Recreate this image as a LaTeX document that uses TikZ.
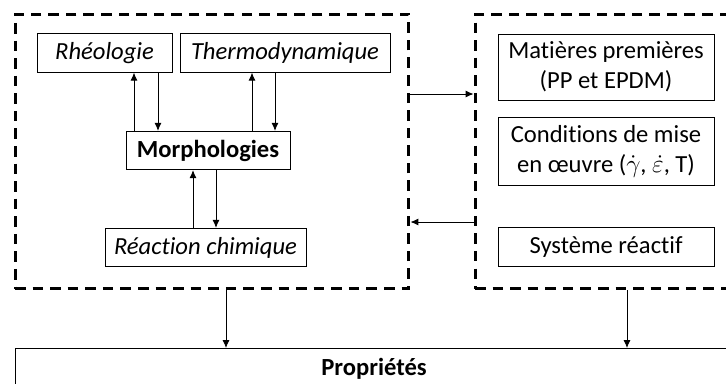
\documentclass[tikz,border=0pt]{standalone}
\usepackage{fontspec}
\setmainfont{Carlito}[Ligatures=CommonOff]
\usetikzlibrary{arrows.meta}

\tikzset{
  zone/.style={draw, dashed, line width=1.7pt, dash pattern=on 6pt off 4pt, inner sep=0pt},
  boite/.style={draw, line width=0.5pt, inner sep=0pt, align=center, minimum height=0.77cm},
  fleche/.style={-{Latex[length=4.5pt,width=4pt]}, line width=0.5pt}
}

\begin{document}
\begin{tikzpicture}[x=0.02cm,y=-0.02cm,font=\fontsize{14}{17}\selectfont]
    \useasboundingbox (0,0) rectangle (726,383);
    \clip (0,0) rectangle (726,383);

    % les deux zones
    \node[zone, minimum width=7.88cm, minimum height=5.5cm] (gauche) at (212,151.5) {};
    \node[zone, minimum width=5.6cm, minimum height=5.5cm] (droite) at (615,151.5) {};

    % zone de gauche
    \node[boite, minimum width=2.7cm] (rheo) at (104.5,53) {\textit{Rhéologie}};
    \node[boite, minimum width=4.2cm] (thermo) at (285,53) {\textit{Thermodynamique}};
    \node[boite, minimum width=3.28cm] (morpho) at (208,150.5) {\textbf{Morphologies}};
    \node[boite, minimum width=4.02cm] (reac) at (205.5,247.5) {\textit{Réaction chimique}};

    % zone de droite
    \node[boite, minimum width=4.32cm, minimum height=1.32cm] (mat) at (606,67)
      {Matières premières\\(PP et EPDM)};
    \node[boite, minimum width=4.32cm, minimum height=1.36cm] (cond) at (606,151)
      {Conditions de mise\\en œuvre ($\dot{\gamma}$, $\dot{\varepsilon}$, T)};
    \node[boite, minimum width=4.32cm] (sys) at (606,247) {Système réactif};

    \node[draw, line width=0.5pt, inner sep=0pt, anchor=north, minimum width=14.36cm,
      text height=0.54cm, text depth=0.5cm] (prop) at (374,348) {\textbf{Propriétés}};

    % fleches
    \foreach \x in {134,252}
      \draw[fleche] (morpho.north -| \x,0) -- (rheo.south -| \x,0);
    \foreach \x in {158,275}
      \draw[fleche] (rheo.south -| \x,0) -- (morpho.north -| \x,0);
    \draw[fleche] (reac.north -| 193,0) -- (morpho.south -| 193,0);
    \draw[fleche] (morpho.south -| 216,0) -- (reac.north -| 216,0);

    \draw[fleche] (gauche.east |- 0,94) -- (droite.west |- 0,94);
    \draw[fleche] (droite.west |- 0,222) -- (gauche.east |- 0,222);

    \draw[fleche] (gauche.south -| 226,0) -- (prop.north -| 226,0);
    \draw[fleche] (droite.south -| 627,0) -- (prop.north -| 627,0);
\end{tikzpicture}
\end{document}
